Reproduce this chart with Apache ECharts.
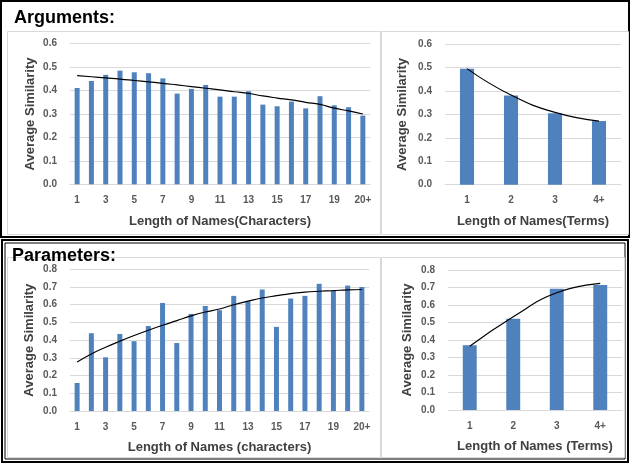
<!DOCTYPE html>
<html>
<head>
<meta charset="utf-8">
<script src="https://cdn.jsdelivr.net/npm/echarts@6/dist/echarts.min.js"></script>
<style>
  html, body { margin: 0; padding: 0; background: #fff; }
  #chart { width: 631px; height: 464px; }
</style>
</head>
<body>
<div id="chart"></div>
<script>
// category labels
const charCats = ['1', '2', '3', '4', '5', '6', '7', '8', '9', '10', '11', '12', '13', '14', '15', '16', '17', '18', '19', '20', '20+'];
const termCats = ['1', '2', '3', '4+'];

// Arguments
const argCharValues = [0.411, 0.441, 0.467, 0.485, 0.478, 0.474, 0.452, 0.387, 0.407, 0.424, 0.374,
  0.374, 0.397, 0.340, 0.333, 0.353, 0.324, 0.376, 0.337, 0.329, 0.293];
const argCharTrend = [0.464, 0.459, 0.454, 0.449, 0.443, 0.437, 0.431, 0.424, 0.417, 0.410, 0.403,
  0.395, 0.388, 0.377, 0.368, 0.360, 0.350, 0.341, 0.325, 0.313, 0.300];
const argTermValues = [0.496, 0.381, 0.305, 0.272];
const argTermTrend = [0.496, 0.383, 0.309, 0.272];

// Parameters
const parCharValues = [0.158, 0.439, 0.303, 0.435, 0.394, 0.480, 0.610, 0.384, 0.548, 0.593, 0.569,
  0.650, 0.620, 0.686, 0.475, 0.635, 0.650, 0.718, 0.680, 0.708, 0.700];
const parCharTrend = [0.277, 0.322, 0.360, 0.394, 0.426, 0.456, 0.484, 0.510, 0.537, 0.559, 0.576,
  0.600, 0.620, 0.638, 0.651, 0.663, 0.671, 0.676, 0.680, 0.684, 0.686];
const parTermValues = [0.370, 0.522, 0.693, 0.714];
const parTermTrend = [0.364, 0.533, 0.670, 0.724];

const barColor = '#4F81BD';
const font = '"Liberation Sans", Arial, sans-serif';

const myChart = echarts.init(document.getElementById('chart'));

// 四个图的位置
const grids = [
  { left: 70, top: 43.7, width: 300, height: 140.6 },
  { left: 445, top: 44.3, width: 176, height: 140.4 },
  { left: 70, top: 269.3, width: 299, height: 141.7 },
  { left: 448, top: 270, width: 174, height: 140 },
];

function xAxisOf(idx, cats, name, gap) {
  return {
    type: 'category',
    gridIndex: idx,
    data: cats,
    name: name,
    nameLocation: 'middle',
    nameGap: gap,
    nameTextStyle: { color: '#404040', fontSize: 13, fontWeight: 'bold', fontFamily: font },
    axisLine: { lineStyle: { color: '#D9D9D9' } },
    axisTick: { show: false },
    axisLabel: {
      interval: cats.length > 4 ? 1 : 0,
      color: '#595959', fontSize: 10, fontWeight: 'bold', fontFamily: font, margin: 11,
    },
  };
}

function yAxisOf(idx, max, gap) {
  return {
    type: 'value',
    gridIndex: idx,
    min: 0,
    max: max,
    interval: 0.1,
    name: 'Average Similarity',
    nameLocation: 'middle',
    nameGap: gap,
    nameTextStyle: { color: '#404040', fontSize: 13, fontWeight: 'bold', fontFamily: font },
    axisLine: { show: false },
    axisTick: { show: false },
    splitLine: { lineStyle: { color: '#D9D9D9' } },
    axisLabel: {
      color: '#595959', fontSize: 10, fontWeight: 'bold', fontFamily: font, margin: 13,
      formatter: (v) => v.toFixed(1),
    },
  };
}

function barOf(idx, data, w) {
  return {
    type: 'bar', xAxisIndex: idx, yAxisIndex: idx, data: data,
    barWidth: w, itemStyle: { color: barColor }, silent: true,
  };
}

function trendOf(idx, data) {
  return {
    type: 'line', xAxisIndex: idx, yAxisIndex: idx, data: data,
    smooth: true, showSymbol: false, silent: true,
    lineStyle: { color: '#000', width: 1.2 },
  };
}

const option = {
  animation: false,
  title: [
    { text: 'Arguments:', left: 9, top: 4, textStyle: { color: '#000', fontSize: 18, fontWeight: 'bold', fontFamily: font } },
    { text: 'Parameters:', left: 7, top: 242, textStyle: { color: '#000', fontSize: 18, fontWeight: 'bold', fontFamily: font } },
  ],
  graphic: [
    // 外框
    { type: 'rect', shape: { x: 1, y: 1, width: 628, height: 236 }, style: { fill: 'none', stroke: '#000', lineWidth: 2 }, z: -1 },
    { type: 'rect', shape: { x: 2, y: 240, width: 626, height: 222 }, style: { fill: 'none', stroke: '#000', lineWidth: 2 }, z: -1 },
    { type: 'rect', shape: { x: 5, y: 243, width: 620, height: 216 }, style: { fill: 'none', stroke: '#000', lineWidth: 1 }, z: -1 },
    // 图表边框
    { type: 'rect', shape: { x: 7.5, y: 31.5, width: 373, height: 203 }, style: { fill: 'none', stroke: '#D9D9D9', lineWidth: 1 }, z: -1 },
    { type: 'rect', shape: { x: 381.5, y: 31.5, width: 247, height: 203 }, style: { fill: 'none', stroke: '#D9D9D9', lineWidth: 1 }, z: -1 },
    { type: 'rect', shape: { x: 7.5, y: 257.5, width: 373, height: 200 }, style: { fill: 'none', stroke: '#D9D9D9', lineWidth: 1 }, z: -1 },
    { type: 'rect', shape: { x: 381.5, y: 257.5, width: 243, height: 200 }, style: { fill: 'none', stroke: '#D9D9D9', lineWidth: 1 }, z: -1 },
  ],
  grid: grids,
  xAxis: [
    xAxisOf(0, charCats, 'Length of Names(Characters)', 31),
    xAxisOf(1, termCats, 'Length of Names(Terms)', 30),
    xAxisOf(2, charCats, 'Length of Names (characters)', 30),
    xAxisOf(3, termCats, 'Length of Names (Terms)', 30),
  ],
  yAxis: [
    yAxisOf(0, 0.6, 33),
    yAxisOf(1, 0.6, 36),
    yAxisOf(2, 0.8, 34),
    yAxisOf(3, 0.8, 34),
  ],
  series: [
    barOf(0, argCharValues, '35%'),
    trendOf(0, argCharTrend),
    barOf(1, argTermValues, '32%'),
    trendOf(1, argTermTrend),
    barOf(2, parCharValues, '35%'),
    trendOf(2, parCharTrend),
    barOf(3, parTermValues, '32%'),
    trendOf(3, parTermTrend),
  ],
};
myChart.setOption(option);
</script>
</body>
</html>
